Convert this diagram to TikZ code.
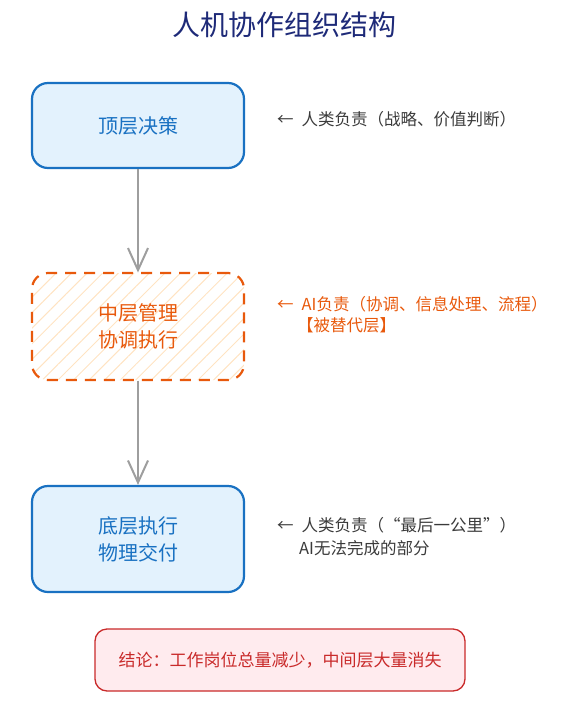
\documentclass[tikz,border=0pt]{standalone}
\usepackage{fontspec}
\setmainfont{Noto Sans CJK SC}
\usetikzlibrary{arrows.meta,patterns.meta}
\definecolor{tblue}{HTML}{1971C2}
\definecolor{fblue}{HTML}{E3F2FD}
\definecolor{torange}{HTML}{E8590C}
\definecolor{hatchc}{HTML}{FFE3C2}
\definecolor{tred}{HTML}{C92A2A}
\definecolor{fred}{HTML}{FFEBEE}
\definecolor{tgray}{HTML}{3A3A3A}
\definecolor{agray}{HTML}{9E9E9E}
\definecolor{tnavy}{HTML}{1E2A78}
\begin{document}
\begin{tikzpicture}[x=1pt,y=-1pt,
  box/.style={rectangle, rounded corners=16pt, minimum width=212pt, align=center,
    font=\fontsize{20}{27}\selectfont, line width=2.2pt, inner sep=0pt},
  bluebox/.style={box, draw=tblue, fill=fblue, text=tblue},
  orangebox/.style={box, draw=torange, dash pattern=on 11pt off 8pt, text=torange,
    pattern={Lines[angle=45,distance=11pt,line width=1pt]}, pattern color=hatchc},
  flow/.style={draw=agray, line width=2pt, -{Straight Barb[length=22pt,width=20pt,line width=2pt]}},
  note/.style={anchor=west, font=\fontsize{16.5}{18}\selectfont, inner sep=0pt},
  concl/.style={rectangle, rounded corners=12pt, draw=tred, fill=fred, text=tred,
    line width=1.3pt, minimum width=370pt, minimum height=62pt, font=\fontsize{17}{20}\selectfont},
  titlestyle/.style={text=tnavy, font=\fontsize{28}{32}\selectfont}
]
\useasboundingbox (0,0) rectangle (566,718);
\node[titlestyle] (title) at (284,25) {人机协作组织结构};

\node[bluebox, minimum height=85pt] (top) at (138,125.5) {顶层决策};
\node[orangebox, minimum height=107pt] (mid) at (138,326.5) {中层管理\\协调执行};
\node[bluebox, minimum height=106pt] (bot) at (138,539) {底层执行\\物理交付};

\draw[flow] (top) -- (mid);
\draw[flow] (mid) -- (bot);

\node[note, text=tgray] (n1) at (277,119) {←\hspace{8pt}人类负责（战略、价值判断）};
\node[note, text=torange] (n2) at (277,304) {←\hspace{8pt}AI负责（协调、信息处理、流程）};
\node[note, text=torange] (n2b) at (297,325) {【被替代层】};
\node[note, text=tgray] (n3) at (277,525) {←\hspace{8pt}人类负责（“最后一公里”）};
\node[note, text=tgray] (n3b) at (299,548) {AI无法完成的部分};

\node[concl] (c) at (280,660) {结论：工作岗位总量减少，中间层大量消失};
\end{tikzpicture}
\end{document}
